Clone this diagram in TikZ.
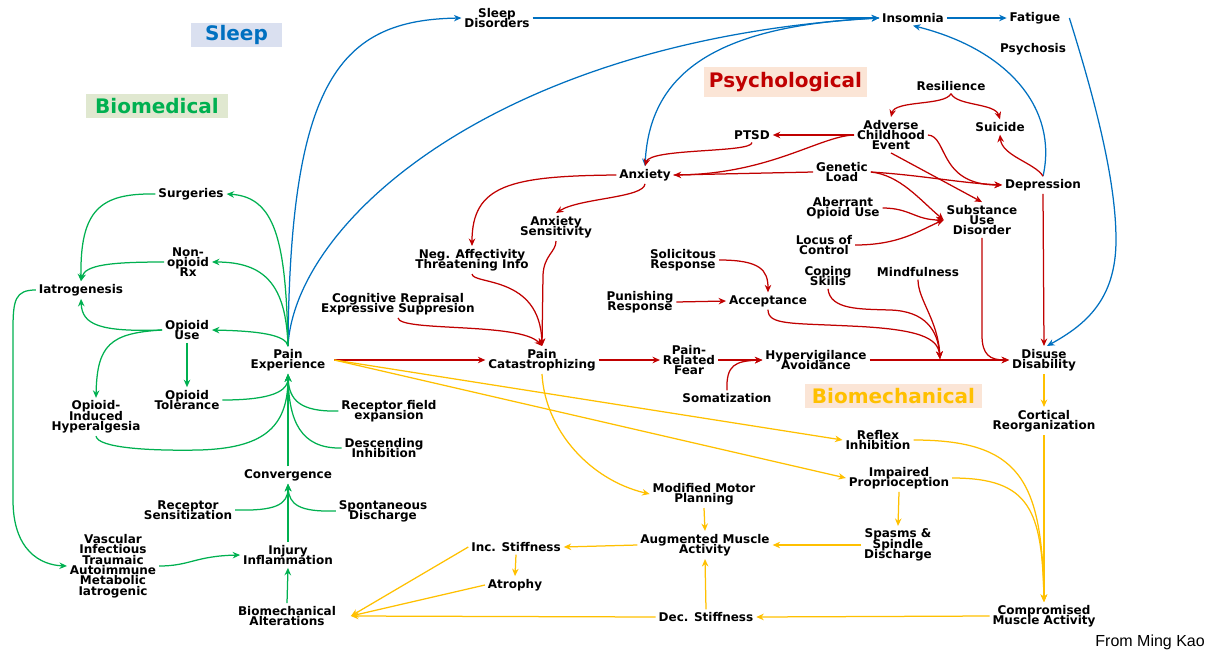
\documentclass[tikz,border=0pt]{standalone}
\usepackage{fontspec}
\setmainfont{DejaVu Sans}
\newfontfamily\arialfont{Liberation Sans}
\usetikzlibrary{arrows.meta}
\definecolor{cblue}{HTML}{0070C0}
\definecolor{cred}{HTML}{C00000}
\definecolor{cgreen}{HTML}{00B050}
\definecolor{cyel}{HTML}{FFC000}
\definecolor{fsleep}{HTML}{DAE0F0}
\definecolor{fbio}{HTML}{E0E8D0}
\definecolor{fpsy}{HTML}{FBE5D6}
\definecolor{ctext}{HTML}{000000}
\newcommand\lblfont{\fontsize{12}{10.3}\selectfont\bfseries\setlength{\lineskiplimit}{-20pt}\setlength{\lineskip}{0pt}}
\tikzset{
  lbl/.style={font=\lblfont, text=ctext, align=center, inner sep=1.5pt, outer sep=1.5pt},
  ttl/.style={font=\fontsize{20}{24}\selectfont\bfseries, inner sep=0pt},
  tip/.style={-{Stealth[length=7.5pt,width=6.5pt]}},
  bl/.style={draw=cblue, line width=1.25pt},
  rd/.style={draw=cred, line width=1.25pt},
  gr/.style={draw=cgreen, line width=1.25pt},
  ye/.style={draw=cyel, line width=1.25pt},
}
\begin{document}
\begin{tikzpicture}[x=1pt,y=-1pt]
\useasboundingbox (0,0) rectangle (1216,654);
% titles
\node[ttl, fill=fsleep, text=cblue, minimum width=91pt, minimum height=24pt] (tsleep) at (236.5,35) {Sleep};
\node[ttl, fill=fbio, text=cgreen, minimum width=142pt, minimum height=24pt] (tbio) at (157,106) {Biomedical};
\node[ttl, fill=fpsy, text=cred, minimum width=163pt, minimum height=30pt] (tpsy) at (785.5,82) {Psychological};
\node[ttl, fill=fpsy, text=cyel, minimum width=177pt, minimum height=24pt] (tmech) at (893.5,396) {Biomechanical};
% nodes
\node[lbl] (sd) at (497,18) {Sleep\\Disorders};
\node[lbl] (ins) at (913,18) {Insomnia};
\node[lbl] (fat) at (1035,18) {Fatigue};
\node[lbl] (psy) at (1033,49) {Psychosis};
\node[lbl] (res) at (951,86) {Resilience};
\node[lbl] (adv) at (891,135) {Adverse\\Childhood\\Event};
\node[lbl] (sui) at (1000,127) {Suicide};
\node[lbl] (ptsd) at (752,135) {PTSD};
\node[lbl] (gen) at (842,172) {Genetic\\Load};
\node[lbl] (anx) at (645,175) {Anxiety};
\node[lbl] (dep) at (1043,185) {Depression};
\node[lbl] (aou) at (843,208) {Aberrant\\Opioid Use};
\node[lbl] (sud) at (982,220) {Substance\\Use\\Disorder};
\node[lbl] (loc) at (824,245) {Locus of\\Control};
\node[lbl] (as) at (556,227) {Anxiety\\Sensitivity};
\node[lbl] (neg) at (472,260) {Neg. Affectivity\\Threatening Info};
\node[lbl] (sol) at (683,260) {Solicitous\\Response};
\node[lbl] (cop) at (828,276) {Coping\\Skills};
\node[lbl] (mind) at (918,272) {Mindfulness};
\node[lbl] (pun) at (640,302) {Punishing\\Response};
\node[lbl] (acc) at (768,301) {Acceptance};
\node[lbl] (cog) at (398,304) {Cognitive Repraisal\\Expressive Suppresion};
\node[lbl] (pc) at (542,360) {Pain\\Catastrophizing};
\node[lbl] (prf) at (689,360) {Pain-\\Related\\Fear};
\node[lbl] (hyp) at (816,360) {Hypervigilance\\Avoidance};
\node[lbl] (som) at (727,398) {Somatization};
\node[lbl] (dd) at (1044,360) {Disuse\\Disability};
\node[lbl] (cr) at (1044,421) {Cortical\\Reorganization};
\node[lbl] (ri) at (878,440) {Reflex\\Inhibition};
\node[lbl] (ip) at (899,478) {Impaired\\Proprioception};
\node[lbl] (mmp) at (704,494) {Modified Motor\\Planning};
\node[lbl] (sps) at (898,545) {Spasms \&\\Spindle\\Discharge};
\node[lbl] (ama) at (705,545) {Augmented Muscle\\Activity};
\node[lbl] (inc) at (516,547) {Inc. Stiffness};
\node[lbl] (atr) at (515,585) {Atrophy};
\node[lbl] (dec) at (706,617) {Dec. Stiffness};
\node[lbl] (cma) at (1044,616) {Compromised\\Muscle Activity};
\node[font=\arialfont\fontsize{16}{18}\selectfont, text=ctext, anchor=east, inner sep=0pt] (src) at (1205,642) {From Ming Kao};
\node[lbl] (sur) at (191,194) {Surgeries};
\node[lbl] (nop) at (188,262) {Non-\\opioid\\Rx};
\node[lbl] (iat) at (81,290) {Iatrogenesis};
\node[lbl] (ou) at (187,330) {Opioid\\Use};
\node[lbl] (pe) at (288,360) {Pain\\Experience};
\node[lbl] (ot) at (187,400) {Opioid\\Tolerance};
\node[lbl] (oih) at (96,417) {Opioid-\\Induced\\Hyperalgesia};
\node[lbl] (rfe) at (389,411) {Receptor field\\expansion};
\node[lbl] (di) at (384,448) {Descending\\Inhibition};
\node[lbl] (conv) at (288,475) {Convergence};
\node[lbl] (rs) at (188,510) {Receptor\\Sensitization};
\node[lbl] (spd) at (383,511) {Spontaneous\\Discharge};
\node[lbl] (vasc) at (113,566) {Vascular\\Infectious\\Traumaic\\Autoimmune\\Metabolic\\Iatrogenic};
\node[lbl] (inj) at (288,555) {Injury\\Inflammation};
\node[lbl] (bma) at (287,616) {Biomechanical\\Alterations};
\coordinate (m) at (940,359);
% ---------- blue ----------
\draw[bl,tip] (pe.north) .. controls (290,80) and (340,20) .. (sd.west);
\draw[bl,tip] (pe.north) .. controls (295,220) and (500,40) .. (ins.west);
\draw[bl,tip] (sd.east) -- (ins.west);
\draw[bl,tip] (ins.west) .. controls (720,25) and (650,70) .. (anx.north);
\draw[bl,tip] (ins.east) -- (fat.west);
\draw[bl,tip] (dep.north) .. controls (1058,110) and (1010,50) .. (ins.south);
\draw[bl,tip] ([xshift=6pt]fat.east) .. controls (1095,100) and (1116,180) .. (1116,240) .. controls (1116,300) and (1085,325) .. ([xshift=3pt]dd.north);
% ---------- red ----------
\draw[rd,tip] (res.south) .. controls (945,106) and (895,100) .. (adv.north);
\draw[rd,tip] (res.south) .. controls (957,106) and (995,103) .. (sui.north);
\draw[rd,tip] (adv.west) -- (ptsd.east);
\draw[rd,tip] (adv.west) .. controls (820,136) and (770,174) .. (anx.east);
\draw[rd] (gen.west) -- (anx.east);
\draw[rd,tip] (ptsd.south) .. controls (752,153) and (650,148) .. (anx.north);
\draw[rd,tip] (adv.east) .. controls (948,136) and (938,185) .. (dep.west);
\draw[rd,tip] (adv.south) -- (sud.north);
\draw[rd,tip] (gen.east) .. controls (920,175) and (960,183) .. (dep.west);
\draw[rd,tip] (gen.east) .. controls (900,175) and (920,200) .. (sud.west);
\draw[rd,tip] (aou.east) .. controls (910,208) and (915,220) .. (sud.west);
\draw[rd,tip] (loc.east) .. controls (900,245) and (920,230) .. (sud.west);
\draw[rd,tip] (dep.north) .. controls (1035,163) and (1002,156) .. (sui.south);
\draw[rd,tip] (dep.south) -- (dd.north);
\draw[rd,tip] (sud.south) -- (982,335) .. controls (982,355) and (990,360) .. (dd.west);
\draw[rd,tip] (anx.west) .. controls (510,176) and (472,185) .. (neg.north);
\draw[rd,tip] (anx.south) .. controls (644,198) and (580,198) .. (as.north);
\draw[rd,tip] (as.south) .. controls (556,252) and (544,255) .. (543,275) -- (pc.north);
\draw[rd,tip] (neg.south) .. controls (473,285) and (540,275) .. (pc.north);
\draw[rd,tip] (cog.south) .. controls (400,332) and (520,322) .. (pc.north);
\draw[rd,tip] ([xshift=6pt]pe.east) -- (pc.west);
\draw[rd,tip] (pc.east) -- (prf.west);
\draw[rd,tip] (prf.east) -- (hyp.west);
\draw[rd,tip] (som.north) .. controls (726,365) and (735,361) .. (hyp.west);
\draw[rd,tip] (sol.east) .. controls (760,260) and (768,270) .. (acc.north);
\draw[rd,tip] (pun.east) -- (acc.west);
\draw[rd,tip] (acc.south) .. controls (768,325) and (790,323) .. (850,326) .. controls (920,329) and (938,338) .. (m);
\draw[rd,tip] (cop.south) .. controls (830,310) and (860,309) .. (890,310) .. controls (925,311) and (938,330) .. (m);
\draw[rd,tip] (mind.south) .. controls (918,300) and (938,320) .. (m);
\draw[rd,tip] (hyp.east) -- (dd.west);
% ---------- green ----------
\draw[gr,tip] (pe.north) .. controls (286,240) and (275,197) .. (sur.east);
\draw[gr,tip] (pe.north) .. controls (286,285) and (265,262) .. (nop.east);
\draw[gr,tip] (pe.north) .. controls (286,335) and (260,331) .. (ou.east);
\draw[gr,tip] (sur.west) .. controls (100,193) and (80,210) .. (iat.north);
\draw[gr,tip] (nop.west) .. controls (110,262) and (85,265) .. (iat.north);
\draw[gr,tip] (ou.west) .. controls (100,332) and (82,325) .. (iat.south);
\draw[gr,tip] (ou.west) .. controls (110,333) and (97,345) .. (oih.north);
\draw[gr,tip] (ou.south) -- (ot.north);
\draw[gr,tip] (ot.east) .. controls (260,400) and (288,395) .. (pe.south);
\draw[gr,tip] (oih.south) .. controls (98,448) and (150,451) .. (200,450) .. controls (260,448) and (288,430) .. (pe.south);
\draw[gr,tip] (rfe.west) .. controls (300,412) and (289,400) .. (pe.south);
\draw[gr,tip] (di.west) .. controls (300,449) and (289,420) .. (pe.south);
\draw[gr,tip] (conv.north) -- (pe.south);
\draw[gr,tip] (rs.east) .. controls (275,511) and (288,505) .. (conv.south);
\draw[gr,tip] (spd.west) .. controls (300,512) and (289,505) .. (conv.south);
\draw[gr,tip] (inj.north) -- (conv.south);
\draw[gr,tip] (bma.north) -- (inj.south);
\draw[gr,tip] (vasc.east) .. controls (190,566) and (195,556) .. (inj.west);
\draw[gr,tip] (iat.west) .. controls (15,290) and (13,300) .. (13,330) -- (13,500) .. controls (13,550) and (40,565) .. (vasc.west);
% ---------- yellow ----------
\draw[ye,tip] ([xshift=6pt]pe.east) -- (ri.west);
\draw[ye,tip] ([xshift=6pt]pe.east) -- (ip.west);
\draw[ye,tip] (pc.south) .. controls (545,430) and (590,480) .. (mmp.west);
\draw[ye,tip] (mmp.south) -- (ama.north);
\draw[ye,tip] (ama.west) -- (inc.east);
\draw[ye,tip] (inc.south) -- (atr.north);
\draw[ye,tip] (sps.west) -- (ama.east);
\draw[ye,tip] (ip.south) -- (sps.north);
\draw[ye,tip] (dec.north) -- (ama.south);
\draw[ye,tip] (cma.west) -- (dec.east);
\draw[ye,tip] (dec.west) -- ([xshift=12pt]bma.east);
\draw[ye,tip] (inc.west) -- ([xshift=12pt]bma.east);
\draw[ye,tip] (atr.west) -- ([xshift=12pt]bma.east);
\draw[ye,tip] (dd.south) -- (cr.north);
\draw[ye,tip] (cr.south) -- (cma.north);
\draw[ye,tip] (ri.east) .. controls (1020,440) and (1042,480) .. (cma.north);
\draw[ye,tip] (ip.east) .. controls (1030,478) and (1042,510) .. (cma.north);
\end{tikzpicture}
\end{document}
